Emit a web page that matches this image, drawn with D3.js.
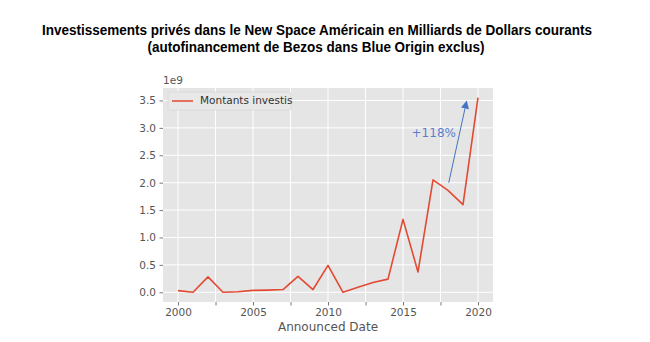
<!DOCTYPE html>
<html><head><meta charset="utf-8">
<script src="https://cdn.jsdelivr.net/npm/d3@7"></script>
<style>body{margin:0;background:#fff}svg{display:block}</style>
</head><body>
<svg id="c" width="650" height="342"></svg>
<script>
const years = [2000,2001,2002,2003,2004,2005,2006,2007,2008,2009,2010,2011,2012,2013,2014,2015,2016,2017,2018,2019,2020];
const amounts = [0.03,0.0,0.28,0.0,0.01,0.035,0.04,0.05,0.29,0.05,0.49,0.0,0.09,0.18,0.24,1.33,0.37,2.05,1.86,1.60,3.55].map(v=>v*1e9);
const yTicks = [0,0.5e9,1e9,1.5e9,2e9,2.5e9,3e9,3.5e9];
const xMajor = [2000,2005,2010,2015,2020];
const xAll = [2000,2002.5,2005,2007.5,2010,2012.5,2015,2017.5,2020];
const seriesName = "Montants investis";
const annotation = {text:"+118%", from:[2018.05,2.0e9], to:[2019.25,3.5e9], textPos:[2017.05,2.9e9]};

const svg = d3.select("#c");
const L=163, R=493, T=88, B=302;
const ymin = d3.min(amounts), ymax = d3.max(amounts), pad=(ymax-ymin)*0.05;
const x = d3.scaleLinear().domain([1999,2021]).range([L,R]);
const y = d3.scaleLinear().domain([ymin-pad, ymax+pad]).range([B,T]);

svg.append("rect").attr("x",L).attr("y",T).attr("width",R-L).attr("height",B-T).attr("fill","#e5e5e5");
// grid
svg.append("g").selectAll("line").data(xAll).join("line")
  .attr("x1",d=>x(d)).attr("x2",d=>x(d)).attr("y1",T).attr("y2",B).attr("stroke","#fff").attr("stroke-width",1);
svg.append("g").selectAll("line").data(yTicks).join("line")
  .attr("x1",L).attr("x2",R).attr("y1",d=>y(d)).attr("y2",d=>y(d)).attr("stroke","#fff").attr("stroke-width",1);

// axes
const xAxis = d3.axisBottom(x).tickValues(xAll).tickSize(3.5).tickPadding(3)
  .tickFormat(d=>xMajor.includes(d)?d3.format("d")(d):"");
const gx = svg.append("g").attr("transform",`translate(0,${B})`).call(xAxis);
const yAxis = d3.axisLeft(y).tickValues(yTicks).tickSize(3.5).tickPadding(3.5)
  .tickFormat(d=>d3.format(".1f")(d/1e9));
const gy = svg.append("g").attr("transform",`translate(${L},0)`).call(yAxis);
[gx,gy].forEach(g=>{
  g.select(".domain").remove();
  g.selectAll(".tick line").attr("stroke","#555").attr("stroke-width",0.8);
  g.selectAll(".tick text").attr("fill","#555").attr("font-family","DejaVu Sans").attr("font-size","10.5px");
});

svg.append("text").attr("x",L).attr("y",T-4).text("1e9")
  .attr("fill","#555").attr("font-family","DejaVu Sans").attr("font-size","10.5px");

svg.append("text").attr("x",(L+R)/2).attr("y",331).attr("text-anchor","middle").text("Announced Date")
  .attr("fill","#555").attr("font-family","DejaVu Sans").attr("font-size","12px");

// line
const line = d3.line().x((d,i)=>x(years[i])).y(d=>y(d));
svg.append("path").datum(amounts).attr("d",line).attr("fill","none")
  .attr("stroke","#E24A33").attr("stroke-width",1.6).attr("stroke-linejoin","round");

// annotation arrow
const ax1=x(annotation.from[0]), ay1=y(annotation.from[1]), ax2=x(annotation.to[0]), ay2=y(annotation.to[1]);
const ang=Math.atan2(ay2-ay1,ax2-ax1), hl=8, hw=4;
const bx=ax2-hl*Math.cos(ang), by=ay2-hl*Math.sin(ang);
svg.append("line").attr("x1",ax1).attr("y1",ay1).attr("x2",bx).attr("y2",by).attr("stroke","#4472C4").attr("stroke-width",1);
svg.append("path").attr("d",`M${ax2},${ay2}L${bx-hw*Math.sin(ang)},${by+hw*Math.cos(ang)}L${bx+hw*Math.sin(ang)},${by-hw*Math.cos(ang)}Z`)
  .attr("fill","#4472C4");
svg.append("text").attr("x",x(annotation.textPos[0])).attr("y",y(annotation.textPos[1])).attr("text-anchor","middle")
  .attr("dominant-baseline","middle").text(annotation.text)
  .attr("fill","#5B7FD0").attr("font-family","DejaVu Sans").attr("font-size","12px");

// legend
const lg = svg.append("g");
lg.append("rect").attr("x",168).attr("y",92).attr("width",123).attr("height",18).attr("rx",2)
  .attr("fill","#e8e8e8").attr("stroke","#d8d8d8").attr("stroke-width",0.8);
lg.append("line").attr("x1",172).attr("x2",193).attr("y1",101).attr("y2",101).attr("stroke","#E24A33").attr("stroke-width",1.5);
lg.append("text").attr("x",200).attr("y",101).attr("dominant-baseline","middle").text(seriesName)
  .attr("fill","#333").attr("font-family","DejaVu Sans").attr("font-size","10.5px");

// title
svg.append("text").attr("x",317).attr("y",35).attr("text-anchor","middle")
  .attr("font-family","Liberation Sans").attr("font-weight","bold").attr("font-size","14px")
  .attr("textLength",550).attr("lengthAdjust","spacingAndGlyphs")
  .text("Investissements privés dans le New Space Américain en Milliards de Dollars courants");
svg.append("text").attr("x",316).attr("y",52).attr("text-anchor","middle")
  .attr("font-family","Liberation Sans").attr("font-weight","bold").attr("font-size","14px")
  .attr("textLength",337).attr("lengthAdjust","spacingAndGlyphs")
  .text("(autofinancement de Bezos dans Blue Origin exclus)");
</script>
</body></html>
